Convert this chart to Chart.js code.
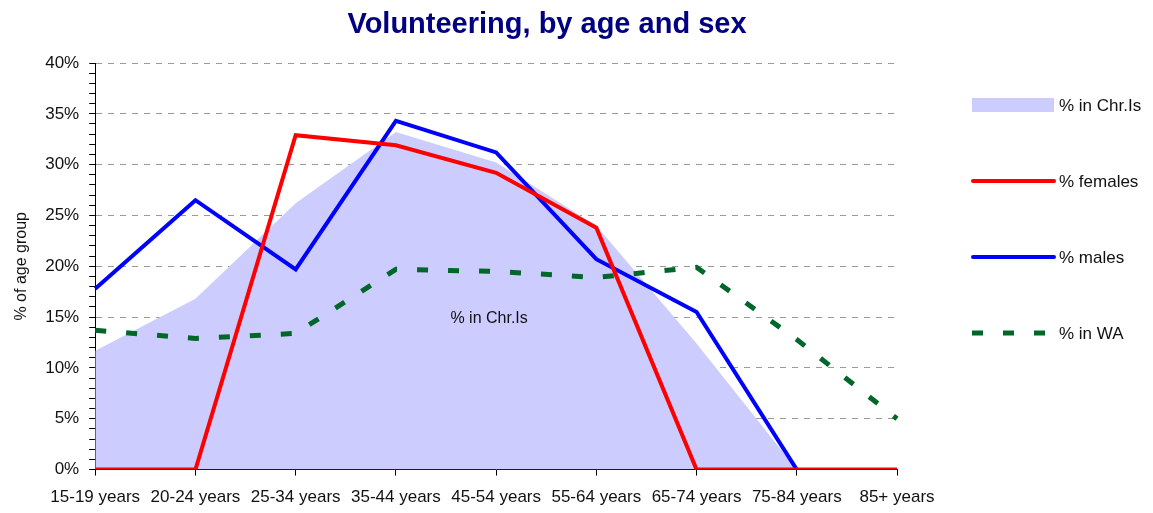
<!DOCTYPE html>
<html>
<head>
<meta charset="utf-8">
<script src="https://cdn.jsdelivr.net/npm/chart.js@4"></script>
<style>
  body { margin: 0; background: #fff; }
  #wrap { width: 1153px; height: 513px; }
</style>
</head>
<body>
<div id="wrap"><canvas id="lineChart"></canvas></div>
<script>
// catégories (groupes d'âge)
const ageGroups = ['15-19 years', '20-24 years', '25-34 years', '35-44 years', '45-54 years',
  '55-64 years', '65-74 years', '75-84 years', '85+ years'];

// séries en %
const chrIs = [11.7, 16.8, 26.2, 33.2, 30.2, 24.0, 12.4, 0, 0];
const females = [0, 0, 32.9, 31.9, 29.2, 23.8, 0, 0, 0];
const males = [17.8, 26.5, 19.7, 34.3, 31.2, 20.7, 15.5, 0, null];
const inWA = [13.7, 12.9, 13.4, 19.7, 19.5, 18.9, 19.9, 12.8, 5.0];

const seriesNames = ['% in Chr.Is', '% females', '% males', '% in WA'];
const FONT = 'Liberation Sans, Arial, sans-serif';

// titre + légende dessinés à la main (espacement du modèle)
const extras = {
    id: 'extras',
    afterDraw(chart) {
        const ctx = chart.ctx;
        const area = chart.chartArea;
        ctx.save();
        ctx.fillStyle = '#000080';
        ctx.font = 'bold 29px ' + FONT;
        ctx.textAlign = 'center';
        ctx.textBaseline = 'middle';
        ctx.fillText('Volunteering, by age and sex', 547, 25);

        // étiquette dans la zone
        const xs = chart.scales.x, ys = chart.scales.y;
        ctx.fillStyle = '#111';
        ctx.font = '16px ' + FONT;
        ctx.fillText(seriesNames[0], xs.getPixelForValue(3.93), ys.getPixelForValue(14.9));

        // légende
        const lx = area.right + 75;
        ctx.textAlign = 'left';
        ctx.font = '17px ' + FONT;
        chart.data.datasets.forEach((ds, i) => {
            const y = 105 + i * 76;
            if (ds.fill) {
                ctx.fillStyle = ds.backgroundColor;
                ctx.fillRect(lx, y - 7, 82, 14);
            } else {
                ctx.strokeStyle = ds.borderColor;
                ctx.lineWidth = ds.borderWidth;
                ctx.lineCap = ds.borderDash ? 'butt' : 'round';
                ctx.setLineDash(ds.borderDash || []);
                ctx.beginPath();
                ctx.moveTo(lx + (ds.borderDash ? 0 : 1), y);
                ctx.lineTo(lx + 82, y);
                ctx.stroke();
                ctx.setLineDash([]);
            }
            ctx.fillStyle = '#111';
            ctx.fillText(ds.label, lx + 87, y + 1);
        });
        ctx.restore();
    }
};

const lineConfig = {
    type: 'line',
    data: {
        labels: ageGroups,
        datasets: [
            { label: seriesNames[0], data: chrIs, backgroundColor: '#CCCCFF', borderWidth: 0,
              fill: 'origin', order: 0 },
            { label: seriesNames[1], data: females, borderColor: '#FF0000', borderWidth: 4, fill: false, order: 1 },
            { label: seriesNames[2], data: males, borderColor: '#0000FF', borderWidth: 4, fill: false, order: 2 },
            { label: seriesNames[3], data: inWA, borderColor: '#006629', borderWidth: 5,
              borderDash: [11, 20], fill: false, order: 3 }
        ]
    },
    options: {
        responsive: true,
        maintainAspectRatio: false,
        animation: false,
        elements: { point: { radius: 0, hoverRadius: 0 }, line: { tension: 0 } },
        layout: { padding: { top: 63, right: 256, bottom: -7, left: 8 } },
        scales: {
            x: {
                offset: false,
                grid: { drawOnChartArea: false, tickLength: 6, tickColor: '#000' },
                border: { color: '#000' },
                ticks: { color: '#111', font: { family: FONT, size: 17 }, padding: 12, maxRotation: 0, autoSkip: false }
            },
            y: {
                min: 0,
                max: 40,
                grid: {
                    color: (c) => (c.tick && c.tick.value % 5 === 0 && c.tick.value > 0) ? '#999' : 'transparent',
                    tickColor: '#000',
                    tickLength: 6
                },
                border: { color: '#000', dash: [6, 6] },
                ticks: {
                    stepSize: 1,
                    autoSkip: false,
                    color: '#111',
                    font: { family: FONT, size: 17 },
                    padding: 10,
                    callback: (v) => v % 5 === 0 ? v + '%' : ''
                },
                title: { display: true, text: '% of age group', color: '#111', font: { family: FONT, size: 16 }, padding: 4 }
            }
        },
        plugins: {
            legend: { display: false },
            tooltip: { enabled: false },
            filler: { drawTime: 'beforeDatasetsDraw' }
        }
    },
    plugins: [extras]
};

const lineChart = new Chart(document.getElementById('lineChart'), lineConfig);
</script>
</body>
</html>
